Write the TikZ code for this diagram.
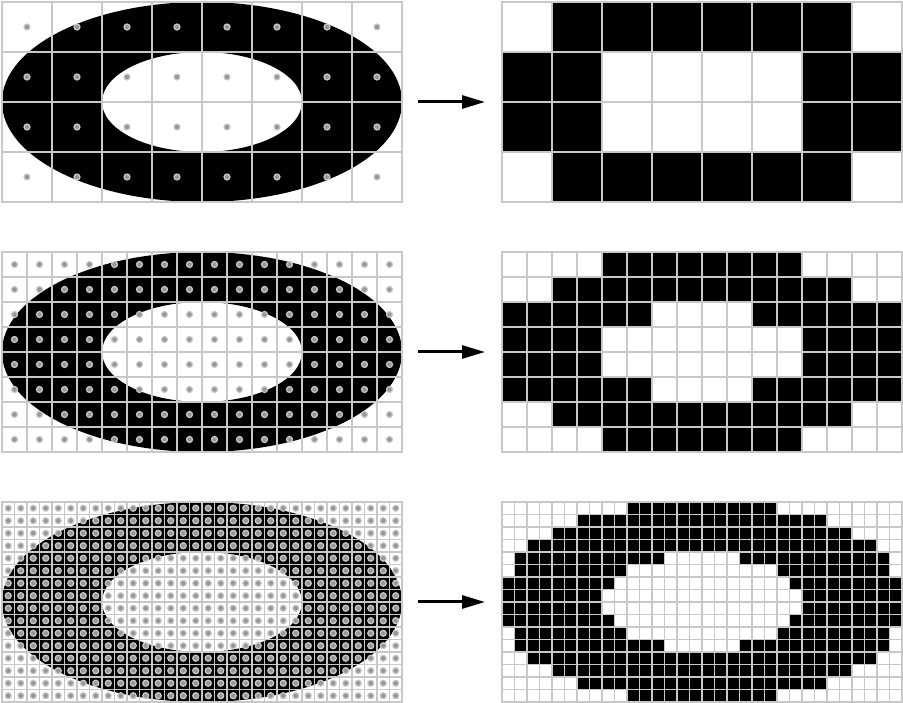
\documentclass[tikz,border=0pt]{standalone}
\usetikzlibrary{arrows.meta}
\definecolor{gridgray}{RGB}{200,200,200}
\definecolor{dotgray}{RGB}{150,150,150}

\begin{document}
\begin{tikzpicture}[
    panel/.style={minimum width=8cm, minimum height=4cm, inner sep=0pt, outer sep=0pt},
    gridline/.style={draw=gridgray, line width=0.7pt},
    sample/.style={fill=dotgray, draw=gridgray, line width=0.7pt},
    arrow/.style={-{Triangle[length=0.46cm, width=0.26cm]}, line width=1.7pt, shorten <=0.32cm, shorten >=0.34cm}
]
\useasboundingbox (0,0) rectangle (18.06,14.06);
\foreach \n/\yb [count=\r] in {8/10.02, 16/5.02, 32/0.02} {
  \pgfmathsetmacro\cs{8/\n}
  \pgfmathtruncatemacro\m{\n/2}
  \node[panel] (src\r) at (4.04,\yb+2) {};
  \node[panel] (dst\r) at (14.04,\yb+2) {};
  \fill[even odd rule] (src\r.center) ellipse (4 and 2) (src\r.center) ellipse (2 and 1);
  \foreach \i in {1,...,\n} \foreach \j in {1,...,\m} {
    \pgfmathtruncatemacro\u{2*\i-1-\n}
    \pgfmathtruncatemacro\v{\m-2*\j+1}
    \pgfmathtruncatemacro\on{and(\u*\u+4*\v*\v < 1.032*\n*\n, 4*\u*\u+16*\v*\v > 0.92*\n*\n)}
    \ifnum\on=1
      \fill (dst\r.north west) ++({(\i-1)*\cs},{-(\j-1)*\cs}) rectangle ++(\cs,-\cs);
    \fi
  }
  \draw[gridline, shift={(src\r.south west)}, step=\cs] (0,0) grid (8,4) (0,0) rectangle (8,4);
  \draw[gridline, shift={(dst\r.south west)}, step=\cs] (0,0) grid (8,4) (0,0) rectangle (8,4);
  \foreach \i in {1,...,\n} \foreach \j in {1,...,\m}
    \filldraw[sample] (src\r.north west) ++({(\i-0.5)*\cs},{-(\j-0.5)*\cs}) circle (0.06);
  \draw[arrow] (src\r) -- (dst\r);
}
\end{tikzpicture}
\end{document}
